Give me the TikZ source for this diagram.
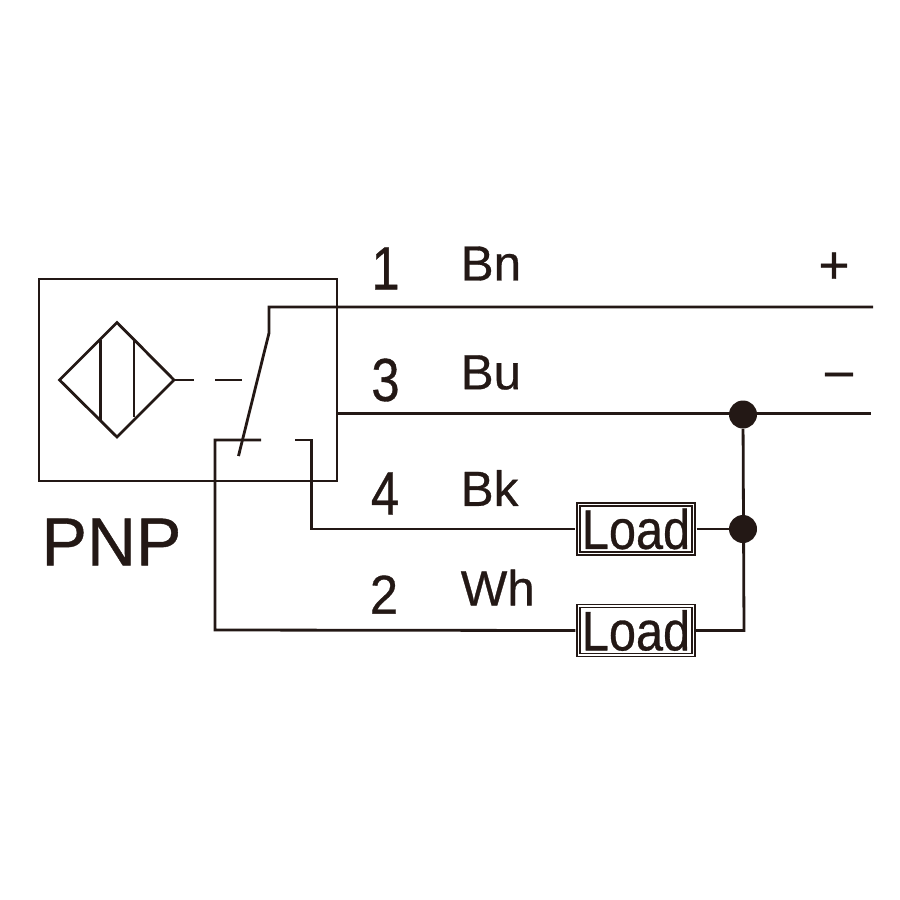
\documentclass[tikz,border=0pt]{standalone}
\usepackage{fontspec}
\setmainfont{Liberation Sans}
\newfontfamily\heavyfont[FakeBold=0.6]{Liberation Sans}
\definecolor{inkc}{HTML}{231815}
\newcommand{\tallnum}[2][1.2]{\scalebox{1}[#1]{#2}}
\newcommand{\tallload}{\scalebox{1}[1.14]{Load}}
\tikzset{
  wire/.style={draw=inkc,line width=2.1pt,line join=miter},
  loadbox/.style={draw=inkc,double=white,double distance=1.1pt,line width=1.1pt,minimum width=86pt,minimum height=36.5pt,inner sep=0pt,text=inkc,font=\heavyfont\fontsize{36.5}{36.5}\selectfont},
  jdot/.style={circle,fill=inkc,minimum size=21pt,inner sep=0pt},
  txt/.style={inner sep=0pt,text=inkc,font=\heavyfont\fontsize{37}{37}\selectfont},
  num/.style={inner sep=0pt,text=inkc,font=\heavyfont\fontsize{38}{38}\selectfont}
}
\begin{document}
\begin{tikzpicture}[x=0.75pt,y=0.75pt,yscale=-1,xscale=1]
\useasboundingbox (0,0) rectangle (900,900);

% sensor housing
\draw [wire] (39,279) rectangle (337,481);
% proximity symbol
\draw [wire] (59.5,380) -- (117,322.5) -- (174,380) -- (117,437) -- cycle;
\draw [wire] (100.5,340) -- (100.5,420);
\draw [wire] (134,340) -- (134,417);

% named points
\coordinate (symR) at (174,380);
\coordinate (dashA) at (194,380);
\coordinate (dashB) at (215,380);
\coordinate (dashC) at (242,380);
\coordinate (swTip) at (238.5,456);
\coordinate (swKnee) at (269,333);
\coordinate (swTop) at (269,307);
\coordinate (bnEnd) at (873,307);
\coordinate (buStart) at (337,413.5);
\coordinate (buEnd) at (871,413.5);
\coordinate (wnA) at (261,440);
\coordinate (wnB) at (215,440);
\coordinate (wnC) at (215,630);
\coordinate (bkA) at (295,440);
\coordinate (bkB) at (311.5,440);
\coordinate (bkC) at (311.5,529);

% junctions and loads
\node [jdot] (jtop) at (743,414.5) {};
\node [jdot] (jmid) at (743,529) {};
\node [loadbox] (loadA) at (636,529) {\tallload};
\node [loadbox] (loadB) at (636,630.5) {\tallload};
\coordinate (cornerB) at (744,630.5);

% wires
\draw [wire] (symR) -- (dashA);
\draw [wire] (dashB) -- (dashC);
\draw [wire] (swTip) -- (swKnee) -- (swTop) -- (bnEnd);
\draw [wire] (buStart) -- (buEnd);
\draw [wire] (wnA) -- (wnB) -- (wnC) -- ([xshift=-2pt]loadB.west);
\draw [wire] (bkA) -- (bkB) -- (bkC) -- ([xshift=-2pt]loadA.west);
\draw [wire] ([xshift=2pt]loadA.east) -- (jmid);
\draw [wire] (loadB.east) -- (cornerB) -- (jtop);

% labels
\node [num] (n1) at (385.5,268.5) {\tallnum{1}};
\node [num] (n3) at (385.5,380) {\tallnum{3}};
\node [num] (n4) at (385,493.5) {\tallnum{4}};
\node [num] (n2) at (384,594.5) {\tallnum[1.08]{2}};
\node [txt,anchor=west] (bn) at (460.5,263.5) {Bn};
\node [txt,anchor=west] (bu) at (460.5,372.5) {Bu};
\node [txt,anchor=west] (bk) at (460.5,488) {Bk};
\node [txt,anchor=west] (wh) at (460.5,587.5) {Wh};
\node [txt,font=\heavyfont\fontsize{40}{40}\selectfont] (plus) at (834,268) {+};
\node [txt,font=\heavyfont\fontsize{37.5}{37.5}\selectfont] (minus) at (839,380) {–};
\node [inner sep=0pt,text=inkc,font=\heavyfont\fontsize{51}{51}\selectfont] (pnp) at (111.5,542) {PNP};
\end{tikzpicture}
\end{document}
